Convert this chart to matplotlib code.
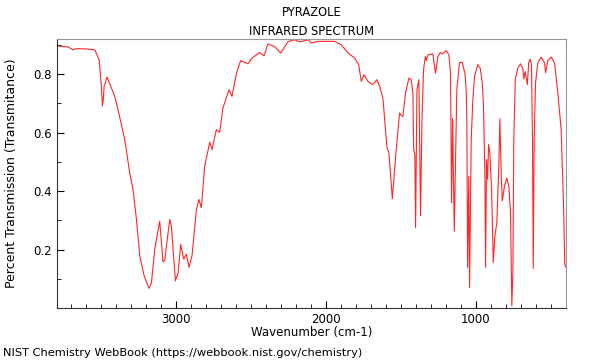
import matplotlib
matplotlib.use("Agg")
import matplotlib.pyplot as plt
from matplotlib.ticker import MultipleLocator

# spectrum (wavenumber cm-1, transmittance)
wavenumber = [3792, 3720, 3685, 3662, 3600, 3540, 3511, 3495, 3489, 3482,
              3478, 3458, 3407, 3385, 3340, 3307, 3285, 3262, 3240, 3211,
              3178, 3162, 3140, 3107, 3085, 3074, 3040, 3029, 3002, 2984,
              2967, 2947, 2929, 2911, 2891, 2862, 2845, 2829, 2807, 2795,
              2773, 2758, 2729, 2707, 2685, 2645, 2625, 2595, 2567, 2518,
              2491, 2440, 2411, 2385, 2340, 2300, 2251, 2207, 2173, 2118,
              2095, 2051, 1940, 1895, 1851, 1807, 1780, 1762, 1745, 1718,
              1707, 1685, 1658, 1640, 1618, 1591, 1578, 1555, 1533, 1507,
              1495, 1485, 1467, 1445, 1429, 1418, 1413, 1405, 1400, 1391,
              1378, 1367, 1358, 1347, 1335, 1329, 1318, 1285, 1267, 1251,
              1235, 1222, 1195, 1178, 1167, 1160, 1153, 1142, 1133, 1125,
              1107, 1089, 1070, 1062, 1058, 1053, 1045, 1040, 1029, 1018,
              1007, 985, 969, 955, 947, 938, 933, 927, 920, 913,
              905, 893, 882, 871, 858, 845, 838, 829, 822, 807,
              791, 778, 767, 758, 751, 745, 735, 718, 700, 685,
              678, 669, 655, 645, 635, 627, 620, 615, 609, 600,
              585, 562, 540, 533, 518, 495, 473, 451, 429, 413,
              405, 398]
transmittance = [0.896, 0.893, 0.883, 0.887, 0.886, 0.883, 0.849, 0.75, 0.69, 0.72,
                 0.758, 0.79, 0.724, 0.678, 0.576, 0.462, 0.405, 0.303, 0.178, 0.11,
                 0.067, 0.087, 0.201, 0.297, 0.158, 0.162, 0.303, 0.28, 0.093, 0.121,
                 0.218, 0.167, 0.184, 0.139, 0.18, 0.337, 0.371, 0.343, 0.485, 0.514,
                 0.567, 0.542, 0.61, 0.601, 0.684, 0.746, 0.724, 0.803, 0.846, 0.835,
                 0.855, 0.874, 0.862, 0.903, 0.894, 0.872, 0.911, 0.917, 0.91, 0.917,
                 0.906, 0.912, 0.912, 0.9, 0.872, 0.855, 0.832, 0.775, 0.798, 0.775,
                 0.771, 0.764, 0.781, 0.758, 0.718, 0.548, 0.531, 0.374, 0.519, 0.667,
                 0.658, 0.655, 0.735, 0.786, 0.781, 0.735, 0.542, 0.525, 0.275, 0.746,
                 0.781, 0.315, 0.633, 0.815, 0.86, 0.846, 0.866, 0.869, 0.803, 0.86,
                 0.874, 0.869, 0.88, 0.866, 0.803, 0.36, 0.65, 0.263, 0.519, 0.746,
                 0.84, 0.84, 0.80, 0.74, 0.633, 0.139, 0.451, 0.07, 0.576, 0.712,
                 0.792, 0.832, 0.82, 0.769, 0.69, 0.462, 0.139, 0.508, 0.44, 0.559,
                 0.531, 0.405, 0.156, 0.246, 0.292, 0.485, 0.647, 0.462, 0.366, 0.417,
                 0.445, 0.417, 0.326, 0.008, 0.121, 0.576, 0.781, 0.82, 0.835, 0.82,
                 0.783, 0.809, 0.764, 0.84, 0.851, 0.832, 0.576, 0.135, 0.576, 0.769,
                 0.838, 0.858, 0.838, 0.805, 0.846, 0.858, 0.838, 0.735, 0.61, 0.349,
                 0.15, 0.14]

fig = plt.figure(figsize=(6, 3.6), dpi=100)
ax = fig.add_axes([0.095, 0.1444, 0.848, 0.7473])

ax.plot(wavenumber, transmittance, color="red", lw=0.8, alpha=0.85)

ax.set_xlim(3792, 398)
ax.set_ylim(0, 0.92)
ax.xaxis.set_major_locator(MultipleLocator(1000))
ax.xaxis.set_minor_locator(MultipleLocator(100))
ax.yaxis.set_minor_locator(MultipleLocator(0.1))
ax.set_yticks([0.2, 0.4, 0.6, 0.8])
ax.tick_params(which="both", direction="in", labelsize=8.5, top=False, right=False)
ax.tick_params(which="major", length=5)
ax.tick_params(which="minor", length=3)

for s in ["top", "right"]:
    ax.spines[s].set_color("#999999")
for s in ["left", "bottom"]:
    ax.spines[s].set_color("#333333")

ax.set_xlabel("Wavenumber (cm-1)", fontsize=8.5, labelpad=0)
ax.set_ylabel("Percent Transmission (Transmitance)", fontsize=9, labelpad=11)
ax.set_title("PYRAZOLE\nINFRARED SPECTRUM", fontsize=8.3, pad=3, linespacing=1.6)

fig.text(0.005, 0.006, "NIST Chemistry WebBook (https://webbook.nist.gov/chemistry)",
         fontsize=8.2, ha="left", va="bottom")

fig.savefig("out.png", dpi=100)
